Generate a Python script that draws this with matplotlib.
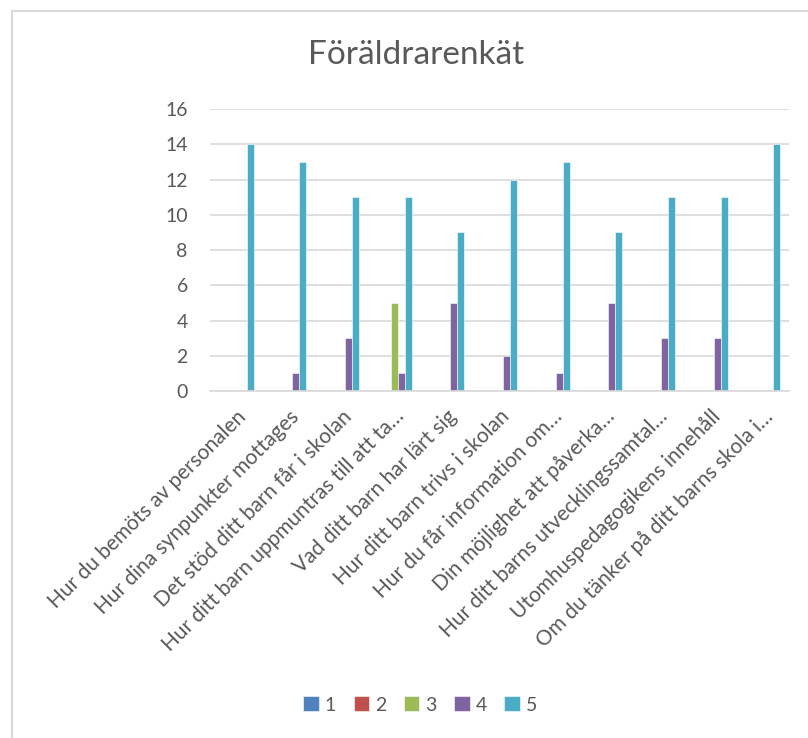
import matplotlib
matplotlib.use("Agg")
import matplotlib.pyplot as plt
import numpy as np
from matplotlib.lines import Line2D

categories = [
    "Hur du bemöts av personalen",
    "Hur dina synpunkter mottages",
    "Det stöd ditt barn får i skolan",
    "Hur ditt barn uppmuntras till att ta…",
    "Vad ditt barn har lärt sig",
    "Hur ditt barn trivs i skolan",
    "Hur du får information om…",
    "Din möjlighet att påverka…",
    "Hur ditt barns utvecklingssamtal…",
    "Utomhuspedagogikens innehåll",
    "Om du tänker på ditt barns skola i…",
]
series_names = ["1", "2", "3", "4", "5"]
s1 = [0, 0, 0, 0, 0, 0, 0, 0, 0, 0, 0]
s2 = [0, 0, 0, 0, 0, 0, 0, 0, 0, 0, 0]
s3 = [0, 0, 0, 5, 0, 0, 0, 0, 0, 0, 0]
s4 = [0, 1, 3, 1, 5, 2, 1, 5, 3, 3, 0]
s5 = [14, 13, 11, 11, 9, 12, 13, 9, 11, 11, 14]
colors = ["#4F81BD", "#C0504D", "#9BBB59", "#8064A2", "#4BACC6"]

plt.rcParams['font.family'] = ['Lato', 'DejaVu Sans']
fig = plt.figure(figsize=(8.08, 7.38), dpi=100)
W, H = 808, 738
fig.lines.append(Line2D([12 / W, 12 / W], [0, 1 - 11 / H], transform=fig.transFigure,
                        color="#D9D9D9", linewidth=1.5))
fig.lines.append(Line2D([12 / W, 1], [1 - 11 / H, 1 - 11 / H], transform=fig.transFigure,
                        color="#D9D9D9", linewidth=1.5))

ax = fig.add_axes([210 / W, 1 - 391 / H, (789 - 210) / W, (391 - 109) / H])

x = np.arange(len(categories))
w = 0.133
data = [s1, s2, s3, s4, s5]
for i, (vals, c, n) in enumerate(zip(data, colors, series_names)):
    ax.bar(x + (i - 2) * w, vals, width=w, color=c, label=n,
           edgecolor="white", linewidth=0.4)

ax.set_xlim(-0.5, len(categories) - 0.5)
ax.set_ylim(0, 16)
ax.set_yticks(range(0, 17, 2))
ax.yaxis.grid(True, color="#D9D9D9", linewidth=1.2)
ax.set_axisbelow(True)
for s in ["top", "right", "left"]:
    ax.spines[s].set_visible(False)
ax.spines["bottom"].set_color("#D9D9D9")
ax.spines["bottom"].set_linewidth(1.2)
ax.tick_params(axis="y", length=0, labelsize=14, labelcolor="#595959", pad=16)
ax.tick_params(axis="x", length=0, labelsize=15, labelcolor="#595959", pad=11)
ax.set_xticks(x)
ax.set_xticklabels(categories, rotation=45, ha="right", rotation_mode="anchor")

fig.text(0.515, 1 - 55 / H, "Föräldrarenkät", ha="center", va="center",
         fontsize=24, color="#595959")

fig.legend(loc="center", bbox_to_anchor=(0.52, 1 - 705 / H), ncol=5, frameon=False,
           fontsize=14, labelcolor="#595959", handlelength=0.8, handleheight=0.8,
           columnspacing=0.9, handletextpad=0.3)

fig.savefig("out.png", dpi=100)
